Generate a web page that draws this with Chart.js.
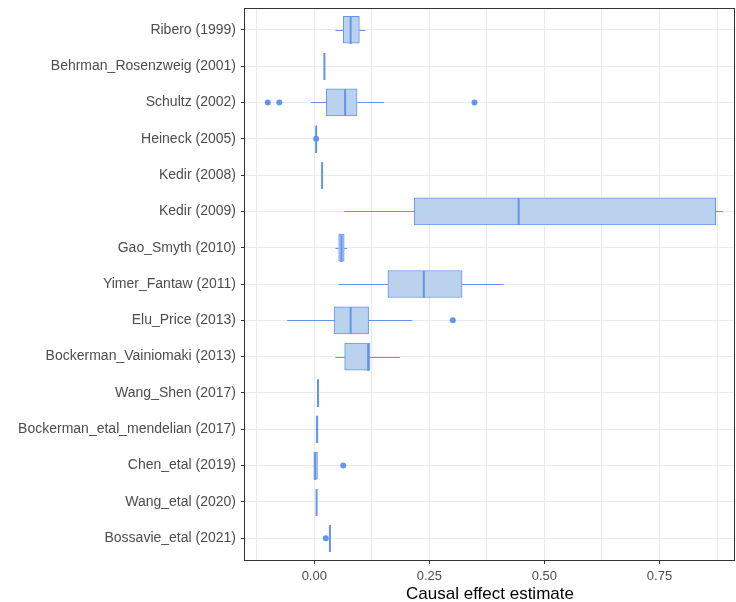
<!DOCTYPE html>
<html>
<head>
<meta charset="utf-8">
<script src="https://cdn.jsdelivr.net/npm/chart.js@4.4.0/dist/chart.umd.min.js"></script>
<style>
  html, body { margin: 0; padding: 0; background: #fff; }
  #wrap { width: 736px; height: 602px; }
</style>
</head>
<body>
<div id="wrap"><canvas id="chart"></canvas></div>
<script>
const studies = ['Ribero (1999)', 'Behrman_Rosenzweig (2001)', 'Schultz (2002)', 'Heineck (2005)',
    'Kedir (2008)', 'Kedir (2009)', 'Gao_Smyth (2010)', 'Yimer_Fantaw (2011)', 'Elu_Price (2013)',
    'Bockerman_Vainiomaki (2013)', 'Wang_Shen (2017)', 'Bockerman_etal_mendelian (2017)',
    'Chen_etal (2019)', 'Wang_etal (2020)', 'Bossavie_etal (2021)'];

const whiskerLo = [0.046, 0.022, -0.007, 0.004, 0.017, 0.065, 0.046, 0.053, -0.059, 0.046, 0.007, 0.003, -0.002, 0.005, 0.034];
const q1        = [0.063, 0.022,  0.026, 0.004, 0.017, 0.217, 0.053, 0.160,  0.043, 0.066, 0.007, 0.004, -0.001, 0.005, 0.034];
const median    = [0.079, 0.022,  0.067, 0.004, 0.017, 0.444, 0.059, 0.238,  0.079, 0.117, 0.008, 0.006,  0.002, 0.005, 0.034];
const q3        = [0.098, 0.022,  0.093, 0.005, 0.017, 0.872, 0.065, 0.321,  0.118, 0.121, 0.010, 0.008,  0.007, 0.005, 0.034];
const whiskerHi = [0.111, 0.022,  0.151, 0.005, 0.017, 0.888, 0.071, 0.411,  0.213, 0.186, 0.010, 0.009,  0.007, 0.005, 0.034];

// outliers: row index of the study and the value
const outlierStudy = [2, 2, 2, 3, 8, 12, 14];
const outlierValue = [-0.101, -0.076, 0.348, 0.004, 0.301, 0.063, 0.025];

const xTicks = [-0.125, 0, 0.125, 0.25, 0.375, 0.5, 0.625, 0.75, 0.875];

const BLUE = '#6495ed';
const BOX_H = 27;

const isMajor = v => Math.abs(v / 0.25 - Math.round(v / 0.25)) < 1e-9;

const noPadding = scale => {
    scale.paddingLeft = 0;
    scale.paddingRight = 0;
    scale.paddingTop = 0;
    scale.paddingBottom = 0;
};

// whiskers, medians and the panel border
const boxExtras = {
    id: 'boxExtras',
    afterDatasetsDraw(chart) {
        const { ctx, scales: { x, y } } = chart;
        ctx.save();
        ctx.strokeStyle = BLUE;
        studies.forEach((s, i) => {
            const py = Math.round(y.getPixelForValue(i)) + 0.5;
            ctx.lineWidth = 1;
            ctx.beginPath();
            ctx.moveTo(x.getPixelForValue(whiskerLo[i]), py);
            ctx.lineTo(x.getPixelForValue(q1[i]), py);
            ctx.moveTo(x.getPixelForValue(q3[i]), py);
            ctx.lineTo(x.getPixelForValue(whiskerHi[i]), py);
            ctx.stroke();
            const pm = x.getPixelForValue(median[i]);
            ctx.lineWidth = 2;
            ctx.beginPath();
            ctx.moveTo(pm, py - BOX_H / 2);
            ctx.lineTo(pm, py + BOX_H / 2);
            ctx.stroke();
        });
        const a = chart.chartArea;
        ctx.strokeStyle = '#333333';
        ctx.lineWidth = 1;
        ctx.strokeRect(a.left - 0.5, a.top + 0.5, a.right - a.left, a.bottom - a.top);
        ctx.restore();
    }
};

const ctx = document.getElementById('chart').getContext('2d');
new Chart(ctx, {
    type: 'bar',
    data: {
        datasets: [{
            type: 'bar',
            indexAxis: 'y',
            data: studies.map((s, i) => ({ x: [q1[i], q3[i]], y: i })),
            backgroundColor: '#bad2ee',
            borderColor: BLUE,
            borderWidth: 1,
            borderSkipped: false,
            barThickness: BOX_H
        }, {
            type: 'scatter',
            data: outlierStudy.map((r, i) => ({ x: outlierValue[i], y: r })),
            pointRadius: 3,
            pointBackgroundColor: BLUE,
            pointBorderWidth: 0
        }]
    },
    options: {
        responsive: true,
        maintainAspectRatio: false,
        animation: false,
        devicePixelRatio: 1,
        layout: { autoPadding: false, padding: { top: 8, right: 1 } },
        plugins: { legend: { display: false }, tooltip: { enabled: false } },
        scales: {
            x: {
                type: 'linear',
                offset: false,
                min: -0.1505,
                max: 0.914,
                afterBuildTicks: scale => { scale.ticks = xTicks.map(v => ({ value: v })); },
                afterFit: scale => {
                    scale.height = 42;
                    noPadding(scale);
                },
                border: { display: false },
                grid: {
                    offset: false,
                    color: '#ebebeb',
                    tickLength: 4,
                    tickColor: c => (c.tick && isMajor(c.tick.value)) ? '#333333' : 'rgba(0,0,0,0)'
                },
                ticks: {
                    autoSkip: false,
                    maxRotation: 0,
                    padding: 5,
                    color: '#4d4d4d',
                    font: { family: 'Liberation Sans', size: 13 },
                    callback: v => isMajor(v) ? v.toFixed(2) : ''
                },
                title: {
                    display: true,
                    text: 'Causal effect estimate',
                    color: '#000000',
                    padding: { top: 0, bottom: -3 },
                    font: { family: 'Liberation Sans', size: 17 }
                }
            },
            y: {
                type: 'linear',
                offset: false,
                reverse: true,
                min: -0.6,
                max: 14.6,
                afterBuildTicks: scale => { scale.ticks = studies.map((s, i) => ({ value: i })); },
                afterFit: scale => {
                    scale.width = 245;
                    noPadding(scale);
                },
                border: { display: false },
                grid: { offset: false, color: '#ebebeb', tickLength: 4, tickColor: '#333333' },
                ticks: {
                    autoSkip: false,
                    padding: 5,
                    color: '#4d4d4d',
                    font: { family: 'Liberation Sans', size: 14 },
                    callback: v => studies[v]
                }
            }
        }
    },
    plugins: [boxExtras]
});
</script>
</body>
</html>
